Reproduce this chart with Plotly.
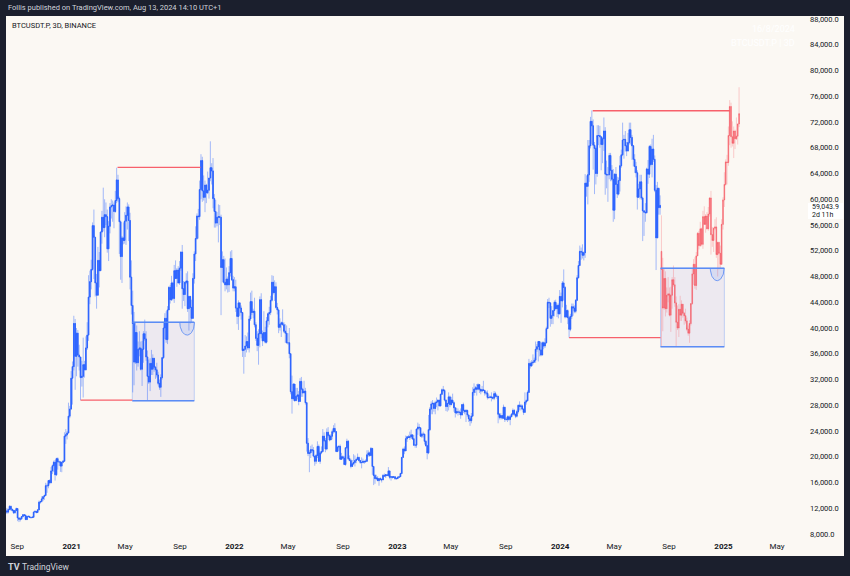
import numpy as np
import pandas as pd
import plotly.graph_objects as go

# ---------------- DATA (USD thousands) ----------------
blue_start = "2020-08-03"   # 3D candles
blue_first_open = 11.1
blue_close = [
    # 2020
    11.75, 11.55, 11.4, 11.8, 12.3, 11.85, 11.65, 11.3, 11.65, 11.95,
    10.5, 10.3, 10.35, 10.7, 11.0, 10.9, 10.25, 10.75, 10.7, 10.6,
    10.55, 10.6, 11.4, 11.5, 11.35, 11.75, 12.95, 13.05, 13.45, 13.8,
    14.0, 15.5, 15.5, 16.3, 15.95, 17.8, 18.6, 19.15, 17.2, 19.7,
    19.2, 19.2, 18.55, 19.15, 19.3, 23.2, 23.4, 23.7, 26.3, 27.4, 32.2,
    # 2021
    34.0, 40.7, 35.6, 39.2, 35.8, 35.5, 32.3, 32.5, 34.3, 33.5,
    36.9, 38.9, 44.8, 47.2, 49.1, 55.9, 54.1, 47.0, 45.1,
    50.5, 48.9, 54.9, 57.2, 55.6, 57.6, 57.3, 52.3, 55.8, 58.8, 59.0,
    59.1, 58.1, 59.8, 63.0, 60.1, 56.5, 51.1, 54.0, 53.6, 56.6,
    57.5, 58.8, 56.7, 47.9, 43.5, 40.7, 34.7, 39.3, 34.6, 36.7,
    36.9, 33.6, 36.7, 39.1, 38.3, 35.5, 32.5, 31.6, 34.5, 33.6,
    35.3, 33.9, 33.5, 32.7, 31.4, 30.8, 32.3, 35.4, 40.0, 41.5,
    38.2, 42.8, 46.3, 44.4, 47.0, 44.6, 48.9, 47.7, 49.0, 47.0, 49.3,
    51.8, 46.1, 45.2, 47.1, 47.3, 43.0, 44.9, 43.2, 41.5, 47.7,
    51.5, 53.9, 57.4, 57.3, 61.5, 66.0, 61.3, 60.3, 62.2, 61.0,
    61.4, 63.3, 64.9, 64.4, 60.1, 58.1, 56.3, 57.2, 57.3, 57.2,
    49.4, 50.6, 47.1, 46.7, 47.6, 46.7, 48.6, 50.8, 47.5, 46.2,
    # 2022
    46.4, 43.1, 41.8, 43.9, 43.1, 42.4, 36.5, 36.7, 37.2, 37.9, 36.9,
    41.4, 44.1, 42.4, 42.6, 40.5, 38.4, 37.3, 39.1, 44.4,
    39.1, 38.0, 39.3, 37.8, 41.1, 42.2, 42.4, 44.3, 47.1, 45.5,
    46.4, 43.2, 42.8, 40.1, 40.6, 40.8, 40.5, 39.5, 39.2, 37.7,
    37.7, 36.0, 30.1, 29.0, 31.3, 28.7, 29.4, 29.6, 28.6, 31.7, 30.5,
    29.9, 30.2, 28.4, 22.1, 20.5, 20.6, 21.1, 21.0, 20.1, 19.3,
    20.2, 21.6, 19.3, 20.6, 20.8, 23.2, 22.5, 21.2, 23.8, 23.3,
    22.6, 23.2, 23.9, 24.4, 23.9, 20.8, 21.5, 21.6, 19.6, 20.0,
    19.8, 18.8, 21.4, 22.4, 19.7, 19.4, 18.5, 18.9, 19.1, 19.4,
    19.6, 19.9, 19.4, 19.1, 19.1, 19.3, 19.2, 19.3, 20.3, 20.6, 20.2,
    21.3, 18.5, 17.1, 16.6, 16.7, 16.3, 16.6, 16.5, 16.4, 17.1,
    17.0, 17.2, 17.1, 17.8, 16.8, 16.9, 16.8, 16.9, 16.6, 16.6,
    # 2023
    16.8, 16.9, 17.4, 19.9, 21.2, 20.9, 22.8, 23.1, 23.0, 23.1,
    23.4, 22.8, 21.8, 21.8, 24.3, 24.6, 24.5, 23.2, 23.5, 23.5,
    22.4, 21.7, 20.6, 24.2, 27.4, 28.2, 28.3, 27.5, 28.4, 28.5,
    28.8, 27.9, 29.7, 30.4, 30.3, 28.8, 27.8, 28.3, 29.3, 28.1,
    28.8, 28.4, 27.6, 26.8, 27.0, 26.9, 26.9, 26.5, 28.1, 27.2,
    27.0, 27.2, 26.5, 25.9, 25.6, 26.3, 30.0, 30.5, 30.7, 30.5,
    31.2, 30.5, 30.2, 30.4, 30.3, 29.9, 29.9, 29.2, 29.2, 29.3, 29.2,
    29.1, 29.8, 29.4, 29.4, 26.6, 26.1, 26.4, 26.0, 27.7, 25.8,
    25.8, 26.2, 25.8, 26.2, 26.6, 27.2, 26.6, 26.3, 27.0, 28.0,
    27.8, 27.9, 27.4, 26.9, 28.5, 28.7, 30.0, 34.5, 34.1, 34.6,
    34.7, 35.0, 36.7, 37.1, 37.9, 36.6, 35.8, 37.7, 37.2, 37.7,
    39.9, 44.0, 43.9, 41.5, 41.9, 42.7, 44.0, 43.0, 43.5, 42.2, 44.9,
    # 2024
    44.2, 47.0, 46.3, 41.7, 42.7, 41.6, 39.8, 41.8, 43.3, 43.1,
    42.6, 44.3, 47.8, 49.7, 51.9, 51.8, 51.3, 51.7, 62.5, 62.0,
    63.8, 68.3, 72.1, 71.4, 68.4, 67.9, 64.0, 69.9, 69.9, 69.7,
    68.5, 69.4, 70.6, 63.9, 63.8, 63.8, 66.8, 64.5, 63.1, 58.3,
    63.9, 62.3, 60.8, 62.9, 65.2, 66.9, 69.2, 69.3, 68.3, 67.5,
    68.8, 70.8, 69.6, 68.3, 66.2, 65.1, 64.1, 60.3, 61.6, 62.7,
    60.2, 58.2, 58.0, 57.9, 64.7, 63.9, 68.2, 65.4, 67.8, 66.2, 61.4,
    54.0, 61.7, 58.7, 59.0439,
]
blue_high = [
    # 2020
    11.9, 11.9, 12.05, 11.95, 12.45, 12.4, 11.9, 11.8, 11.75, 12.1,
    11.95, 10.6, 10.6, 10.75, 11.1, 11.05, 11.05, 10.8, 10.9, 10.85,
    10.65, 10.8, 11.5, 11.7, 11.55, 11.8, 13.2, 13.15, 13.85, 13.85,
    14.1, 15.95, 15.8, 16.35, 16.5, 18.4, 18.8, 19.4, 19.5, 19.85,
    19.9, 19.4, 19.3, 19.2, 19.5, 23.8, 24.3, 24.0, 28.4, 27.9, 33.3,
    # 2021
    34.8, 41.9, 41.4, 40.0, 39.7, 37.4, 34.8, 34.9, 38.5, 34.9,
    38.7, 40.9, 48.2, 48.9, 50.6, 56.4, 58.4, 52.0, 48.4,
    52.6, 51.8, 55.0, 58.2, 61.8, 60.0, 59.5, 58.4, 56.6, 59.4, 60.0,
    59.8, 59.5, 61.3, 64.9, 63.8, 60.4, 56.7, 54.3, 56.4, 58.0,
    58.9, 59.5, 59.2, 57.9, 50.5, 45.8, 42.5, 40.8, 40.4, 37.9,
    39.5, 37.9, 38.0, 39.5, 41.3, 39.5, 36.5, 35.1, 35.3, 36.6,
    35.9, 35.1, 34.1, 34.6, 33.2, 32.0, 32.8, 35.4, 40.9, 42.3,
    42.6, 43.4, 46.5, 46.7, 48.1, 47.2, 49.8, 50.5, 49.3, 49.6, 50.4,
    51.9, 52.9, 47.3, 47.2, 48.5, 48.8, 45.0, 45.0, 44.4, 48.5,
    51.9, 55.8, 57.8, 58.5, 62.9, 67.0, 66.6, 63.7, 62.9, 62.4,
    64.3, 63.3, 69.0, 65.6, 66.4, 60.8, 59.9, 58.0, 59.2, 59.1,
    57.6, 51.9, 51.2, 50.8, 49.4, 48.0, 49.6, 51.9, 52.1, 48.1,
    # 2022
    47.9, 47.5, 43.2, 44.3, 44.0, 43.5, 42.5, 36.8, 38.9, 38.7, 39.3,
    41.9, 45.5, 45.8, 43.0, 44.7, 40.9, 39.5, 39.8, 44.9,
    45.4, 39.6, 42.6, 40.2, 41.7, 42.4, 43.3, 45.0, 48.2, 48.1,
    47.4, 47.1, 43.9, 43.0, 41.5, 41.0, 42.9, 40.9, 40.6, 40.4,
    39.2, 40.0, 36.1, 32.6, 31.4, 31.3, 30.7, 30.7, 30.2, 32.2, 32.4,
    30.7, 31.8, 30.7, 28.5, 22.9, 21.0, 21.7, 21.9, 21.5, 20.1,
    20.4, 22.4, 21.9, 20.9, 21.6, 24.3, 23.8, 22.9, 24.4, 24.6,
    23.5, 23.5, 24.2, 24.9, 25.2, 24.0, 21.7, 21.8, 21.9, 20.6,
    20.2, 20.1, 21.4, 22.8, 22.6, 20.2, 19.7, 19.5, 20.4, 20.2,
    19.7, 20.5, 20.0, 19.5, 19.9, 19.7, 19.4, 19.6, 21.0, 21.0, 20.8,
    21.5, 21.1, 18.2, 17.3, 17.2, 17.0, 16.7, 16.8, 16.6, 17.3,
    17.4, 17.3, 17.3, 18.4, 17.8, 17.0, 16.9, 16.9, 16.9, 16.8,
    # 2023
    17.0, 16.9, 17.5, 19.9, 21.4, 21.6, 23.3, 23.2, 23.4, 23.9,
    24.2, 23.4, 23.4, 21.9, 24.4, 25.3, 25.1, 24.5, 23.7, 23.9,
    23.6, 22.6, 21.8, 26.5, 27.7, 28.6, 28.8, 28.4, 28.7, 29.2,
    28.9, 28.8, 29.8, 30.6, 31.0, 30.5, 28.9, 28.3, 30.0, 29.5,
    29.3, 29.8, 28.6, 27.6, 27.6, 27.5, 27.2, 27.5, 28.2, 28.4,
    27.3, 27.4, 27.3, 26.5, 26.4, 26.8, 30.8, 31.4, 31.0, 31.3,
    31.4, 31.3, 30.5, 31.0, 31.8, 30.4, 30.2, 30.3, 29.7, 29.5, 30.0,
    29.4, 30.2, 30.1, 29.7, 29.4, 26.8, 26.8, 26.5, 28.1, 27.5,
    26.1, 26.4, 26.4, 26.5, 26.8, 27.5, 27.4, 26.7, 27.3, 28.1,
    28.6, 28.2, 28.1, 27.5, 30.0, 28.9, 30.3, 35.2, 34.8, 35.0,
    35.9, 35.4, 37.9, 37.5, 38.0, 37.9, 37.8, 37.9, 37.9, 38.4,
    40.2, 44.5, 44.7, 44.0, 43.4, 42.7, 44.3, 44.4, 43.8, 43.8, 45.9,
    # 2024
    45.5, 47.3, 49.1, 46.5, 43.6, 42.9, 41.9, 42.2, 43.8, 43.8,
    43.5, 44.5, 48.2, 50.4, 52.8, 52.5, 53.0, 51.9, 63.9, 63.7,
    69.2, 69.2, 72.8, 73.8, 72.4, 68.9, 68.2, 71.5, 71.5, 71.4,
    69.3, 69.7, 72.7, 71.2, 66.0, 65.0, 67.2, 67.2, 65.3, 64.7,
    64.0, 65.0, 63.5, 63.4, 66.7, 67.7, 71.9, 70.0, 70.6, 68.9,
    70.3, 71.9, 71.9, 70.0, 68.4, 67.0, 65.8, 64.5, 62.4, 63.8,
    63.8, 60.4, 58.3, 59.4, 64.9, 66.1, 68.4, 68.5, 69.4, 70.0, 66.8,
    62.2, 62.7, 61.8, 60.6,
]
blue_low = [
    # 2020
    11.0, 11.35, 11.1, 11.2, 11.7, 11.6, 11.5, 11.1, 11.15, 11.55,
    10.0, 9.85, 9.95, 10.2, 10.6, 10.75, 10.15, 10.15, 10.6, 10.5,
    10.4, 10.5, 10.55, 11.3, 11.2, 11.25, 11.7, 12.7, 12.9, 13.1,
    13.3, 13.9, 14.4, 15.1, 15.7, 15.9, 17.3, 17.6, 16.3, 17.0,
    18.0, 18.6, 17.65, 17.6, 19.0, 19.3, 22.0, 22.7, 23.6, 26.0, 28.5,
    # 2021
    28.1, 33.4, 30.4, 32.5, 34.0, 33.4, 28.8, 30.9, 29.2, 32.3,
    33.4, 36.6, 38.0, 43.7, 46.0, 48.9, 47.6, 44.9, 43.0,
    45.0, 46.3, 48.9, 53.1, 55.0, 54.1, 56.0, 51.7, 50.4, 54.7, 57.0,
    56.5, 55.5, 57.9, 59.4, 59.6, 51.5, 47.5, 47.0, 53.0, 53.1,
    52.9, 55.3, 53.5, 46.0, 42.1, 30.0, 31.1, 34.4, 33.4, 34.0,
    35.6, 33.4, 31.0, 34.6, 38.0, 34.9, 28.8, 31.3, 30.2, 32.7,
    32.7, 33.2, 32.1, 32.3, 31.1, 30.4, 29.3, 32.0, 35.2, 38.3,
    37.7, 37.5, 42.8, 43.8, 44.2, 44.3, 43.9, 47.6, 46.4, 46.9, 46.7,
    48.9, 43.0, 44.2, 43.4, 46.8, 42.5, 39.6, 40.7, 40.8, 41.4,
    46.9, 50.4, 53.7, 53.9, 56.8, 60.0, 59.6, 59.8, 58.0, 59.4,
    60.8, 60.1, 62.8, 62.3, 58.6, 55.6, 55.6, 55.8, 53.3, 56.0,
    42.0, 47.1, 46.9, 45.7, 46.0, 45.5, 45.6, 48.0, 47.3, 45.7,
    # 2022
    45.7, 42.5, 40.6, 39.7, 41.9, 41.3, 35.5, 32.9, 35.5, 36.2, 36.6,
    36.2, 41.1, 42.0, 41.5, 40.1, 38.0, 36.4, 34.3, 37.0,
    38.4, 37.2, 38.0, 37.6, 37.6, 40.1, 40.5, 42.0, 44.1, 45.2,
    44.2, 43.0, 42.1, 39.2, 39.6, 38.6, 40.4, 39.2, 37.7, 37.6,
    37.4, 35.3, 29.7, 26.7, 28.7, 28.6, 28.7, 28.9, 28.0, 28.5, 29.3,
    29.3, 29.9, 28.1, 20.8, 20.1, 17.6, 19.8, 20.7, 19.9, 18.6,
    18.9, 19.8, 19.2, 18.9, 20.4, 20.8, 22.3, 20.7, 21.0, 23.0,
    22.4, 22.6, 22.7, 23.6, 23.7, 20.8, 20.9, 20.9, 19.6, 19.6,
    19.6, 18.7, 18.6, 21.2, 19.5, 19.4, 18.2, 18.5, 18.7, 18.5,
    19.0, 19.5, 19.3, 18.9, 18.2, 19.0, 18.9, 19.1, 19.2, 20.0, 20.0,
    20.1, 17.2, 15.6, 15.8, 16.4, 16.2, 15.5, 16.3, 16.0, 16.4,
    16.9, 16.7, 17.0, 16.9, 16.5, 16.3, 16.6, 16.7, 16.4, 16.5,
    # 2023
    16.6, 16.7, 16.9, 17.3, 19.9, 20.4, 20.9, 22.3, 22.9, 22.6,
    22.8, 22.6, 21.7, 21.4, 21.4, 23.4, 24.1, 23.1, 22.9, 23.0,
    21.9, 21.6, 19.6, 20.4, 24.0, 26.6, 26.6, 27.0, 26.6, 27.7,
    27.2, 27.8, 27.8, 29.6, 30.0, 28.6, 27.1, 27.0, 27.2, 27.7,
    28.0, 28.3, 27.0, 26.1, 26.6, 26.4, 26.5, 25.9, 26.4, 26.8,
    26.6, 25.4, 26.2, 25.4, 24.8, 25.2, 26.3, 29.5, 29.9, 29.5,
    30.3, 29.9, 29.7, 30.0, 30.3, 29.5, 29.6, 28.9, 29.0, 29.1, 28.6,
    28.9, 28.8, 29.2, 29.0, 25.2, 25.8, 25.8, 25.8, 25.9, 25.4,
    25.6, 25.4, 25.6, 24.9, 26.2, 26.4, 26.4, 26.0, 26.1, 26.7,
    27.2, 27.2, 27.3, 26.5, 26.8, 28.1, 28.6, 29.9, 33.7, 34.0,
    34.3, 34.6, 34.6, 36.3, 34.8, 35.6, 35.6, 35.8, 36.7, 36.9,
    37.6, 39.9, 43.1, 40.2, 40.6, 40.6, 41.8, 42.9, 41.7, 41.5, 42.1,
    # 2024
    40.8, 43.2, 44.3, 41.5, 41.7, 40.6, 38.5, 39.5, 41.4, 41.9,
    42.3, 42.3, 44.3, 47.7, 49.8, 50.6, 50.8, 50.5, 50.9, 60.4,
    59.2, 62.7, 67.9, 68.6, 64.6, 60.8, 62.3, 63.5, 68.4, 68.0,
    64.5, 65.6, 67.5, 60.7, 61.7, 59.6, 63.1, 62.8, 62.8, 56.5,
    56.9, 62.3, 60.2, 60.6, 61.2, 64.9, 66.7, 66.3, 67.4, 66.7,
    67.4, 68.5, 68.5, 66.1, 65.1, 64.1, 63.4, 58.4, 60.6, 60.0,
    59.9, 53.5, 54.3, 56.5, 57.8, 62.4, 63.3, 65.1, 63.4, 65.8, 61.1,
    49.0, 54.6, 57.6, 57.6,
]

# projected (fractal) path
red_start = "2024-08-15"
red_first_open = 51.9
red_close = [49.1, 43.1, 47.7, 43.0, 45.1, 45.3, 42.0, 45.1, 47.5, 46.7,
             43.9, 40.9, 40.0, 42.9, 42.0, 43.7, 42.3, 41.9, 41.1, 39.8,
             39.2, 40.7, 43.8, 48.4, 49.9, 46.6, 51.2, 54.7, 52.8, 55.4,
             53.0, 57.3, 56.1, 57.4, 55.4, 57.7, 60.2, 54.5, 53.6, 55.5,
             55.7, 51.4, 53.3, 51.6, 49.9, 56.1, 59.9, 62.3, 65.8, 65.7,
             69.9, 74.4, 69.7, 68.7, 70.6, 69.4, 69.8, 71.7, 73.3]
red_high = [57.5, 50.9, 49.2, 48.8, 46.3, 47.9, 46.3, 46.4, 47.9, 49.7,
            47.9, 44.9, 43.5, 43.7, 45.0, 44.3, 43.5, 42.5, 43.0, 41.6,
            40.4, 41.2, 43.8, 49.3, 50.7, 51.0, 51.8, 54.9, 55.1, 56.5,
            55.6, 58.2, 58.9, 57.7, 58.0, 58.8, 60.3, 61.3, 55.7, 55.6,
            56.9, 57.2, 53.4, 53.4, 52.8, 56.9, 60.3, 64.2, 66.2, 66.9,
            71.3, 75.4, 75.0, 72.1, 71.3, 70.8, 72.7, 71.7, 77.4]
red_low = [37.2, 39.5, 42.8, 41.8, 42.4, 44.0, 41.8, 39.4, 43.0, 46.4,
           43.3, 37.2, 39.7, 38.6, 41.1, 41.1, 41.6, 40.5, 40.7, 39.5,
           38.8, 37.7, 40.4, 43.6, 46.7, 46.1, 45.9, 51.2, 52.2, 52.6,
           52.7, 52.3, 56.0, 54.8, 55.3, 55.1, 57.3, 51.4, 52.6, 51.8,
           55.2, 50.9, 48.0, 49.1, 49.2, 49.8, 55.3, 58.8, 62.1, 62.3,
           65.2, 68.4, 68.0, 68.2, 66.4, 67.8, 69.2, 68.5, 71.2]

# drawings: (start, end, price in thousands)
red_levels = [("2021-01-21", "2021-05-17", 28.8),
              ("2021-04-14", "2021-10-17", 64.95),
              ("2024-01-21", "2024-08-13", 38.5),
              ("2024-03-14", "2025-01-16", 73.75)]
boxes = [("2021-05-17", "2021-10-03", 28.7, 40.9),
         ("2024-08-13", "2025-01-03", 37.1, 49.3)]
arcs = [("2021-09-17", 16.5, 40.9, 2.0),     # center date, half-width days, top price, depth
        ("2024-12-18", 15.5, 49.3, 1.95)]

x_tick_dates = ["2020-09-01", "2021-01-01", "2021-05-01", "2021-09-01", "2022-01-01",
                "2022-05-01", "2022-09-01", "2023-01-01", "2023-05-01", "2023-09-01",
                "2024-01-01", "2024-05-01", "2024-09-01", "2025-01-01", "2025-05-01"]
x_tick_labels = ["Sep", "2021", "May", "Sep", "2022", "May", "Sep", "2023", "May", "Sep",
                 "2024", "May", "Sep", "2025", "May"]
y_ticks = list(range(8000, 88001, 4000))
last_price = 59043.9

# ---------------- FIGURE ----------------
assert len(blue_close) == len(blue_high) == len(blue_low)
assert len(red_close) == len(red_high) == len(red_low)

K = 1000.0
BG = "#1b1f2d"
PANEL = "#fbf8f3"
BLUE = "#2962ff"
REDLINE = "#f7606b"
BOXLINE = "#5b8cf5"
TXT = "#131722"
FONT = "Roboto"

W, H = 850, 576
PL, PR, PT, PB = 6, 806, 16, 540  # plot area in pixels


def pxx(px):
    return (px - PL) / (PR - PL)


def pxy(py):
    return (PB - py) / (PB - PT)


def candles(start, first_open, close, high, low, wick_col, body_col):
    d = pd.date_range(start, periods=len(close), freq="3D")
    c = np.array(close) * K
    h = np.array(high) * K
    l = np.array(low) * K
    o = np.concatenate([[first_open * K], c[:-1]])
    h = np.maximum(h, np.maximum(o, c))
    l = np.minimum(l, np.minimum(o, c))
    bh = np.maximum(o, c)
    bl = np.minimum(o, c)
    t1 = go.Candlestick(x=d, open=o, high=h, low=l, close=c, whiskerwidth=0,
                        increasing=dict(line=dict(color=wick_col, width=1), fillcolor=wick_col),
                        decreasing=dict(line=dict(color=wick_col, width=1), fillcolor=wick_col),
                        hoverinfo="skip", showlegend=False)
    t2 = go.Candlestick(x=d, open=o, high=bh, low=bl, close=c, whiskerwidth=0,
                        increasing=dict(line=dict(color=body_col, width=0.7), fillcolor=body_col),
                        decreasing=dict(line=dict(color=body_col, width=0.7), fillcolor=body_col),
                        hoverinfo="skip", showlegend=False)
    return [t1, t2]


fig = go.Figure()
shapes = []

# panel background
shapes.append(dict(type="rect", xref="paper", yref="paper", x0=pxx(6), x1=pxx(844),
                   y0=pxy(556), y1=pxy(16), fillcolor=PANEL, line=dict(width=0), layer="below"))

# boxes
for x0, x1, y0, y1 in boxes:
    shapes.append(dict(type="rect", xref="x", yref="y", x0=x0, x1=x1, y0=y0 * K, y1=y1 * K,
                       fillcolor="rgba(120,110,215,0.10)",
                       line=dict(color="rgba(91,140,245,0.35)", width=1), layer="below"))
    for yy in (y0, y1):
        shapes.append(dict(type="line", xref="x", yref="y", x0=x0, x1=x1, y0=yy * K, y1=yy * K,
                           line=dict(color=BOXLINE, width=1.5)))

for tr in candles(blue_start, blue_first_open, blue_close, blue_high, blue_low,
                  "rgba(41,98,255,0.42)", BLUE):
    fig.add_trace(tr)
for tr in candles(red_start, red_first_open, red_close, red_high, red_low,
                  "rgba(247,82,95,0.28)", "rgba(247,82,95,0.5)"):
    fig.add_trace(tr)

# arcs (half-circles hanging from the box tops)
for cdate, half_days, top, depth in arcs:
    th = np.linspace(0, np.pi, 40)
    cx = pd.Timestamp(cdate)
    xs = [cx + pd.Timedelta(days=float(half_days * np.cos(t))) for t in th]
    ys = (top - depth * np.sin(th)) * K
    fig.add_trace(go.Scatter(x=xs, y=ys, mode="lines", fill="toself",
                             fillcolor="rgba(91,140,245,0.15)",
                             line=dict(color="rgba(91,140,245,0.85)", width=1),
                             hoverinfo="skip", showlegend=False))

for x0, x1, yy in red_levels:
    shapes.append(dict(type="line", xref="x", yref="y", x0=x0, x1=x1, y0=yy * K, y1=yy * K,
                       line=dict(color=REDLINE, width=1.3)))

# price label box
shapes.append(dict(type="rect", xref="paper", yref="paper", x0=pxx(808), x1=pxx(843),
                   y0=pxy(219), y1=pxy(203), fillcolor="#ffffff", line=dict(width=0)))

annotations = [
    dict(text="Follis published on TradingView.com, Aug 13, 2024 14:10 UTC+1", x=pxx(6), y=pxy(8),
         xref="paper", yref="paper", xanchor="left", yanchor="middle", showarrow=False,
         font=dict(family=FONT, size=7.5, color="#d1d4dc")),
    dict(text="BTCUSDT.P, 3D, BINANCE", x=pxx(10), y=pxy(25), xref="paper", yref="paper",
         xanchor="left", yanchor="middle", showarrow=False,
         font=dict(family=FONT, size=7.5, color=TXT)),
    dict(text="16/8/2024", x=pxx(797), y=pxy(29), xref="paper", yref="paper",
         xanchor="right", yanchor="middle", showarrow=False,
         font=dict(family=FONT, size=9, color="#ffffff")),
    dict(text="BTCUSDT.P | 3D", x=pxx(797), y=pxy(43), xref="paper", yref="paper",
         xanchor="right", yanchor="middle", showarrow=False,
         font=dict(family=FONT, size=9, color="#ffffff")),
    dict(text=f"{last_price:,.1f}", x=pxx(810), y=pxy(207), xref="paper", yref="paper",
         xanchor="left", yanchor="middle", showarrow=False,
         font=dict(family=FONT, size=7, color=TXT)),
    dict(text="2d 11h", x=pxx(810), y=pxy(215), xref="paper", yref="paper",
         xanchor="left", yanchor="middle", showarrow=False,
         font=dict(family=FONT, size=7, color=TXT)),
    dict(text="<b>TV</b>", x=pxx(6), y=pxy(567), xref="paper", yref="paper",
         xanchor="left", yanchor="middle", showarrow=False,
         font=dict(family=FONT, size=9, color="#d1d4dc")),
    dict(text="TradingView", x=pxx(20), y=pxy(567), xref="paper", yref="paper",
         xanchor="left", yanchor="middle", showarrow=False,
         font=dict(family=FONT, size=8.5, color="#d1d4dc")),
]

ticktext = [f"<b>{t}</b>" if t.isdigit() else t for t in x_tick_labels]

# axis ranges from pixel geometry
x_left = pd.Timestamp("2020-08-07")
x_right = pd.Timestamp("2025-07-05")

fig.update_layout(
    width=W, height=H,
    margin=dict(l=PL, r=W - PR, t=PT, b=H - PB),
    paper_bgcolor=BG, plot_bgcolor=PANEL,
    hovermode=False, showlegend=False,
    shapes=shapes, annotations=annotations,
    font=dict(family=FONT, size=8, color=TXT),
    xaxis=dict(type="date", range=[x_left, x_right], showgrid=False, zeroline=False,
               tickvals=x_tick_dates, ticktext=ticktext, ticks="", showline=False,
               tickfont=dict(family=FONT, size=8, color=TXT),
               rangeslider=dict(visible=False), fixedrange=True),
    yaxis=dict(range=[7068, 88466], side="right", showgrid=False, zeroline=False,
               tickvals=y_ticks, ticktext=[f"{v:,.1f}" for v in y_ticks], ticks="",
               showline=False, ticklabelstandoff=3,
               tickfont=dict(family=FONT, size=7.5, color=TXT), fixedrange=True),
)

fig.write_html("out.html")
